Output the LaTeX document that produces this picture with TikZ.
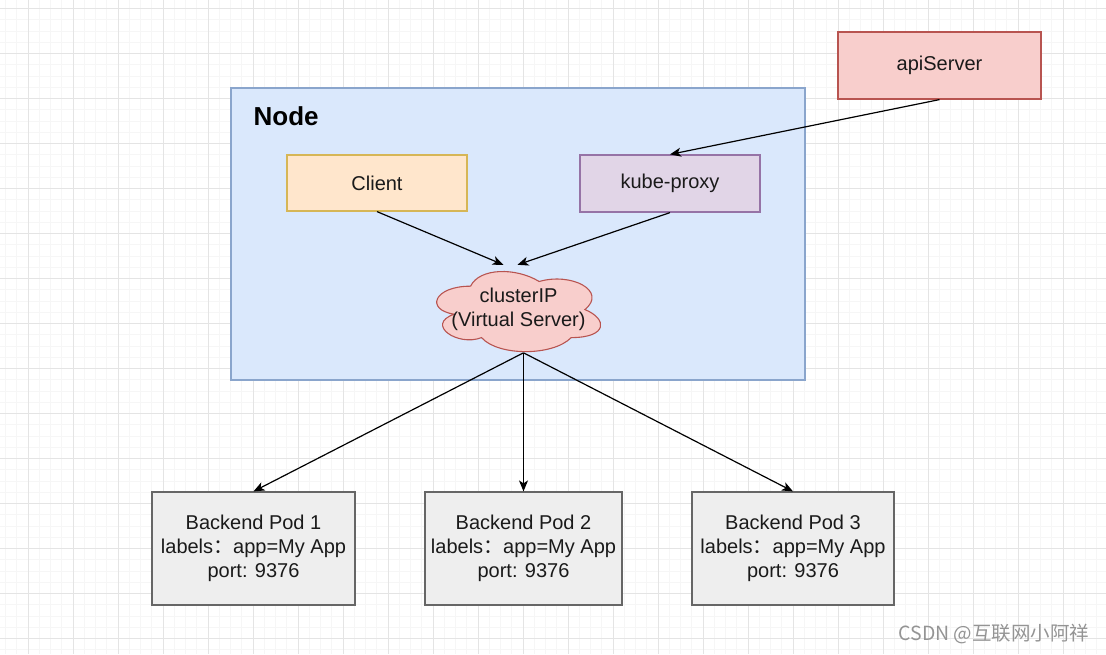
\documentclass[tikz,border=0pt]{standalone}
\usepackage{fontspec}
\setmainfont{Liberation Sans}
\newfontfamily\cjk{Noto Sans CJK SC}
\usetikzlibrary{arrows.meta,calc}
\definecolor{hostfill}{HTML}{DAE8FC}
\definecolor{hostline}{HTML}{8AA5CC}
\definecolor{redfill}{HTML}{F8CECC}
\definecolor{redline}{HTML}{B85450}
\definecolor{orfill}{HTML}{FFE6CC}
\definecolor{orline}{HTML}{D6B656}
\definecolor{pufill}{HTML}{E1D5E7}
\definecolor{puline}{HTML}{9673A6}
\definecolor{podfill}{HTML}{EEEEEE}
\definecolor{podline}{HTML}{666666}
\definecolor{gridminor}{HTML}{F6F6F6}
\definecolor{gridmajor}{HTML}{E4E4E4}
\definecolor{txt}{HTML}{1A1A1A}
\begin{document}
\begin{tikzpicture}[x=1pt,y=-1pt,
  box/.style={draw, line width=1.2pt, inner sep=0pt, text=txt,
    font=\fontsize{20}{24}\selectfont, align=center},
  conn/.style={draw=black, line width=1.2pt,
    -{Stealth[length=11pt,width=9pt,inset=3pt]}},
  minorgrid/.style={draw=gridminor, line width=0.8pt},
  majorgrid/.style={draw=gridmajor, line width=1pt}]
\useasboundingbox (0,0) rectangle (1106,654);
\fill[white] (0,0) rectangle (1106,654);
% grid
\foreach \k in {0,...,99} {
  \draw[minorgrid] ({-17+11.25*\k},0) -- ({-17+11.25*\k},654);
}
\foreach \k in {0,...,58} {
  \draw[minorgrid] (0,{-2.75+11.25*\k}) -- (1106,{-2.75+11.25*\k});
}
\foreach \k in {0,...,24} {
  \draw[majorgrid] ({28+45*\k},0) -- ({28+45*\k},654);
}
\foreach \k in {0,...,14} {
  \draw[majorgrid] (0,{8.5+45*\k}) -- (1106,{8.5+45*\k});
}
% container
\node[draw=hostline, fill=hostfill, line width=1.2pt, minimum width=574pt,
  minimum height=292pt, inner sep=0pt] (host) at (518,234) {};
\node[anchor=west, font=\fontsize{26}{30}\selectfont\bfseries, inner sep=0pt]
  (hosttitle) at ($(host.north west)+(23,29)$) {Node};
% boxes
\node[box, fill=redfill, draw=redline, minimum width=203pt, minimum height=67pt]
  (api) at (939.5,65.5) {apiServer};
\node[box, fill=orfill, draw=orline, minimum width=180pt, minimum height=56pt]
  (client) at (377,183) {Client};
\node[box, fill=pufill, draw=puline, minimum width=180pt, minimum height=57pt]
  (proxy) at (670,183.5) {kube-proxy};
% cloud
\node[minimum width=183pt, minimum height=93.5pt, inner sep=0pt] (cloud) at (516.5,309.75) {};
\begin{scope}[shift={(cloud.north west)}, x=183pt, y=-93.5pt]
\draw[fill=redfill, draw=redline, line width=1.1pt]
  (0.25,0.25) .. controls (0.05,0.25) and (0,0.5) .. (0.16,0.55)
  .. controls (0,0.66) and (0.18,0.9) .. (0.31,0.8)
  .. controls (0.4,1) and (0.7,1) .. (0.8,0.8)
  .. controls (1,0.8) and (1,0.6) .. (0.875,0.5)
  .. controls (1,0.3) and (0.8,0.1) .. (0.625,0.2)
  .. controls (0.5,0.05) and (0.3,0.05) .. (0.25,0.25) -- cycle;
\end{scope}
\node[text=txt, font=\fontsize{20}{24}\selectfont, align=center, inner sep=0pt]
  (cloudtext) at ($(cloud.center)+(2,0)$) {clusterIP\\(Virtual Server)};
% pods
\node[box, fill=podfill, draw=podline, minimum width=203pt, minimum height=113pt]
  (pod1) at (253.5,548.5) {Backend Pod 1\\labels{\cjk ：}app=My App\\port: 9376};
\node[box, fill=podfill, draw=podline, minimum width=197pt, minimum height=113pt]
  (pod2) at (523.5,548.5) {Backend Pod 2\\labels{\cjk ：}app=My App\\port: 9376};
\node[box, fill=podfill, draw=podline, minimum width=202pt, minimum height=113pt]
  (pod3) at (793,548.5) {Backend Pod 3\\labels{\cjk ：}app=My App\\port: 9376};
% connectors
\coordinate (cin1) at ($(cloud.north)+(-13,2)$);
\coordinate (cin2) at ($(cloud.north)+(1,2)$);
\coordinate (cout) at ($(cloud.north)+(7,90)$);
\draw[conn] (api.south) -- (proxy.north);
\draw[conn] (client.south) -- (cin1);
\draw[conn] (proxy.south) -- (cin2);
\draw[conn] (cout) -- (pod1.north);
\draw[conn] (cout) -- (pod2.north);
\draw[conn] (cout) -- (pod3.north);
% watermark
\node[text=black!42, font=\cjk\fontsize{19.5}{22}\selectfont, inner sep=0pt]
  (mark) at (994,634) {CSDN @互联网小阿祥};
\end{tikzpicture}
\end{document}
